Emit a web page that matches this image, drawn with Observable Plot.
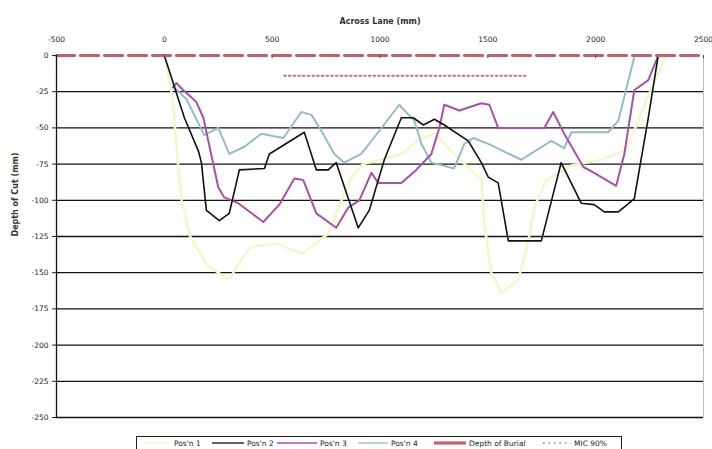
<!DOCTYPE html>
<html>
<head>
<meta charset="utf-8">
<script src="https://cdn.jsdelivr.net/npm/d3@7"></script>
<script src="https://cdn.jsdelivr.net/npm/@observablehq/plot@0.6"></script>
<style>
  html, body { margin: 0; padding: 0; background: #fff; }
  #wrap { position: relative; width: 712px; height: 449px; overflow: hidden; font-family: "DejaVu Sans", sans-serif; }
  #legend { position: absolute; left: 136px; top: 436px; width: 486px; height: 16px; border: 1px solid #222; box-sizing: border-box; background: #fff; }
  .lg-item { position: absolute; top: 1px; font-size: 7.5px; color: #222; white-space: nowrap; line-height: 11px; }
  .lg-sample { position: absolute; top: 0px; }
</style>
</head>
<body>
<div id="wrap"></div>
<script>
// ---- Data (mm across lane, depth of cut mm) ----
const xTicks = [-500, 0, 500, 1000, 1500, 2000, 2500];
const yTicks = [0, -25, -50, -75, -100, -125, -150, -175, -200, -225, -250];

const pos1X = [0, 40, 60, 80, 120, 200, 300, 360, 400, 520, 640, 760, 860, 920, 1000, 1100, 1180, 1252, 1330, 1470, 1484, 1516, 1562, 1641, 1688, 1715, 1770, 1887, 2026, 2142, 2235, 2327];
const pos1Y = [0, -30, -70, -100, -125, -145, -155, -140, -132, -130, -137, -123, -86, -75, -72, -68, -58, -54, -66, -86, -116, -150, -164, -155, -128, -105, -86, -76, -72, -65, -31, 0];

const pos2X = [0, 93, 158, 172, 195, 255, 301, 348, 464, 487, 649, 705, 760, 797, 899, 950, 1020, 1099, 1154, 1201, 1252, 1298, 1409, 1470, 1502, 1548, 1595, 1748, 1840, 1933, 1993, 2040, 2105, 2179, 2244, 2290];
const pos2Y = [0, -43, -66, -74, -107, -114, -109, -79, -78, -68, -53, -79, -79, -74, -119, -107, -72, -43, -43, -48, -44, -48, -59, -74, -84, -88, -128, -128, -74, -102, -103, -108, -108, -99, -43, 0];

const pos3X = [40, 56, 88, 148, 181, 204, 250, 278, 343, 459, 533, 603, 644, 705, 797, 853, 904, 960, 992, 1099, 1168, 1238, 1275, 1298, 1368, 1470, 1507, 1548, 1762, 1803, 1854, 1943, 1993, 2095, 2133, 2179, 2244, 2290];
const pos3Y = [-22, -19, -24, -32, -43, -59, -91, -98, -102, -115, -103, -85, -86, -109, -119, -105, -100, -81, -88, -88, -79, -68, -50, -34, -38, -33, -34, -50, -50, -39, -54, -77, -81, -90, -68, -24, -17, 0];

const pos4X = [46, 102, 185, 250, 301, 371, 450, 552, 635, 682, 728, 788, 834, 913, 992, 1089, 1159, 1192, 1238, 1344, 1391, 1433, 1502, 1655, 1794, 1854, 1887, 2058, 2105, 2179];
const pos4Y = [-22, -30, -55, -50, -68, -63, -54, -57, -39, -41, -52, -68, -74, -68, -53, -34, -45, -61, -74, -78, -61, -57, -61, -72, -59, -64, -53, -53, -45, -1];

const burialX = [-500, 2500];
const burialY = [0, 0];
const micX = [556, 1678];
const micY = [-14, -14];

const seriesNames = ["Pos'n 1", "Pos'n 2", "Pos'n 3", "Pos'n 4", "Depth of Burial", "MIC 90%"];

// ---- Build tables ----
const toRows = (xs, ys, s) => xs.map((x, i) => ({x, y: ys[i], s}));
const p1 = toRows(pos1X, pos1Y, seriesNames[0]);
const p2 = toRows(pos2X, pos2Y, seriesNames[1]);
const p3 = toRows(pos3X, pos3Y, seriesNames[2]);
const p4 = toRows(pos4X, pos4Y, seriesNames[3]);
const bur = toRows(burialX, burialY, seriesNames[4]);
const mic = toRows(micX, micY, seriesNames[5]);

const styles = {
  "Pos'n 1": {stroke: "#f5f6cc", strokeWidth: 2.6},
  "Pos'n 2": {stroke: "#111111", strokeWidth: 1.6},
  "Pos'n 3": {stroke: "#a552a8", strokeWidth: 2},
  "Pos'n 4": {stroke: "#93bcc9", strokeWidth: 2},
  "Depth of Burial": {stroke: "#c6606e", strokeWidth: 3.2, strokeDasharray: "18,6"},
  "MIC 90%": {stroke: "#cc6a78", strokeWidth: 2, strokeDasharray: "1.5,3.2"}
};

const font = "DejaVu Sans, sans-serif";

const chart = Plot.plot({
  width: 712,
  height: 432,
  marginTop: 55,
  marginBottom: 15,
  marginLeft: 56,
  marginRight: 9,
  style: {fontFamily: font, background: "#fff", color: "#222"},
  x: {domain: [-500, 2500]},
  y: {domain: [-250, 0]},
  marks: [
    Plot.ruleY(yTicks.filter(d => d < 0), {stroke: "#111", strokeWidth: 1.3}),
    Plot.ruleX([2500], {y1: -250, y2: 0, stroke: "#bbb", strokeWidth: 1}),
    Plot.line(p1, {x: "x", y: "y", ...styles["Pos'n 1"]}),
    Plot.line(p4, {x: "x", y: "y", ...styles["Pos'n 4"]}),
    Plot.line(p3, {x: "x", y: "y", ...styles["Pos'n 3"]}),
    Plot.line(p2, {x: "x", y: "y", ...styles["Pos'n 2"]}),
    Plot.line(mic, {x: "x", y: "y", ...styles["MIC 90%"]}),
    Plot.line(bur, {x: "x", y: "y", ...styles["Depth of Burial"]}),
    Plot.ruleX(xTicks, {y1: 0, y2: -2.2, stroke: "#444", strokeWidth: 1}),
    Plot.ruleX([-500], {y1: -250, y2: 0, stroke: "#111", strokeWidth: 1.3}),
    Plot.axisX({anchor: "top", ticks: xTicks, tickSize: 0, tickPadding: 14, fontSize: 7.5, label: null, tickFormat: d => String(d)}),
    Plot.axisY({ticks: yTicks, tickSize: 4, tickPadding: 4, fontSize: 7.5, label: null, tickFormat: d => String(d)}),
    Plot.text(["Across Lane (mm)"], {frameAnchor: "top", dy: -37, fontSize: 8, fontWeight: "bold", fill: "#333"}),
    Plot.text(["Depth of Cut (mm)"], {frameAnchor: "left", dx: -41, rotate: -90, fontSize: 8, fontWeight: "bold", fill: "#333"})
  ]
});

const wrap = document.getElementById("wrap");
wrap.appendChild(chart);

// ---- Legend (HTML, below SVG) ----
const legend = document.createElement("div");
legend.id = "legend";
wrap.appendChild(legend);
const sampleLeft = [4, 75, 140, 221, 297, 406];
const sampleWidth = [30, 32, 40, 30, 32, 28];
const textLeft = [37, 110, 183, 254, 332, 437];
seriesNames.forEach((name, i) => {
  const st = styles[name];
  const svgNS = "http://www.w3.org/2000/svg";
  const svg = document.createElementNS(svgNS, "svg");
  svg.setAttribute("class", "lg-sample");
  svg.setAttribute("width", sampleWidth[i]);
  svg.setAttribute("height", 12);
  svg.style.left = sampleLeft[i] + "px";
  const ln = document.createElementNS(svgNS, "line");
  ln.setAttribute("x1", 0); ln.setAttribute("x2", sampleWidth[i]);
  ln.setAttribute("y1", 6); ln.setAttribute("y2", 6);
  ln.setAttribute("stroke", st.stroke);
  ln.setAttribute("stroke-width", Math.min(st.strokeWidth, i === 4 ? 4 : 1.3));
  if (st.strokeDasharray) ln.setAttribute("stroke-dasharray", i === 4 ? "none" : "1.5,4");
  svg.appendChild(ln);
  legend.appendChild(svg);
  const t = document.createElement("div");
  t.className = "lg-item";
  t.style.left = textLeft[i] + "px";
  t.textContent = name;
  legend.appendChild(t);
});
</script>
</body>
</html>
